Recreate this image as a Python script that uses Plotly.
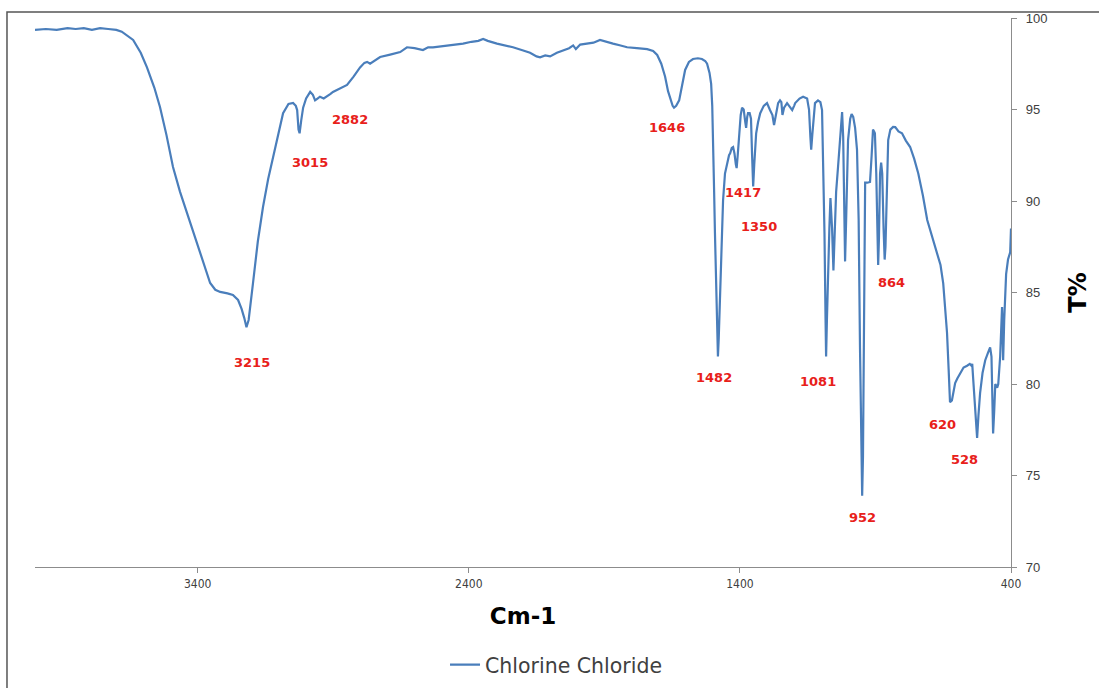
import plotly.graph_objects as go

# ---- data ----
wavenumber = [
    4000, 3960, 3920, 3880, 3850, 3820, 3790, 3760, 3730, 3700, 3680, 3660, 3638, 3610, 3587, 3560,
    3539, 3515, 3491, 3465, 3439, 3415, 3391, 3370, 3354, 3335, 3317, 3290, 3270, 3251, 3238, 3228,
    3220, 3212, 3205, 3196, 3178, 3159, 3140, 3122, 3100, 3085, 3065, 3048, 3038, 3033, 3028, 3024,
    3018, 3011, 3000, 2985, 2975, 2967, 2958, 2949, 2935, 2923, 2910, 2901, 2880, 2865, 2849, 2825,
    2801, 2785, 2775, 2764, 2745, 2727, 2690, 2653, 2628, 2600, 2569, 2550, 2532, 2505, 2480, 2450,
    2421, 2390, 2365, 2347, 2330, 2296, 2265, 2237, 2205, 2174, 2150, 2137, 2118, 2100, 2075, 2052,
    2030, 2015, 2005, 1989, 1960, 1940, 1916, 1895, 1868, 1840, 1816, 1780, 1742, 1720, 1705, 1690,
    1676, 1665, 1657, 1648, 1643, 1635, 1624, 1612, 1602, 1588, 1573, 1555, 1540, 1528, 1521, 1512,
    1506, 1502, 1499, 1495, 1492, 1487, 1484, 1481, 1478, 1474, 1469, 1465, 1462, 1455, 1447, 1440,
    1436, 1430, 1425, 1420, 1415, 1412, 1408, 1403, 1397, 1392, 1386, 1380, 1377, 1373, 1370, 1364,
    1359, 1355, 1351, 1347, 1340, 1333, 1325, 1312, 1300, 1289, 1280, 1274, 1266, 1259, 1252, 1247,
    1243, 1237, 1226, 1215, 1207, 1200, 1196, 1180, 1167, 1152, 1145, 1140, 1137, 1133, 1127, 1123,
    1112, 1103, 1097, 1092, 1088, 1084, 1082, 1079, 1075, 1070, 1066, 1060, 1055, 1050, 1045, 1038,
    1030, 1023, 1019, 1015, 1012, 1008, 1004, 1001, 993, 988, 982, 975, 968, 962, 957, 952,
    949, 946, 943, 940, 938, 930, 920, 914, 909, 905, 902, 897, 893, 890, 887, 883,
    879, 875, 870, 866, 863, 858, 853, 845, 835, 827, 815, 802, 788, 772, 757, 742,
    725, 709, 690, 672, 660, 650, 643, 636, 630, 625, 618, 612, 606, 598, 588, 575,
    562, 552, 546, 543, 540, 536, 532, 528, 525, 520, 514, 505, 495, 485, 477, 472,
    470, 468, 466, 462, 458, 451, 447, 440, 433, 431, 429, 425, 418, 411, 407, 403,
    400,
]
transmittance = [
    99.35, 99.40, 99.35, 99.45, 99.40, 99.45, 99.35, 99.45, 99.40, 99.35, 99.25, 99.05, 98.80, 98.10, 97.30, 96.20,
    95.14, 93.60, 91.86, 90.50, 89.34, 88.20, 87.16, 86.20, 85.52, 85.15, 85.03, 84.95, 84.86, 84.59, 84.10, 83.60,
    83.10, 83.50, 84.30, 85.50, 87.80, 89.67, 91.20, 92.40, 93.80, 94.80, 95.30, 95.36, 95.20, 94.97, 93.90, 93.70,
    94.40, 95.10, 95.60, 95.96, 95.80, 95.50, 95.60, 95.70, 95.60, 95.70, 95.85, 95.96, 96.10, 96.20, 96.34, 96.80,
    97.30, 97.55, 97.60, 97.50, 97.70, 97.87, 98.00, 98.14, 98.40, 98.35, 98.25, 98.40, 98.40, 98.45, 98.50, 98.55,
    98.60, 98.70, 98.75, 98.85, 98.75, 98.60, 98.50, 98.40, 98.25, 98.10, 97.90, 97.85, 97.95, 97.90, 98.10, 98.25,
    98.35, 98.50, 98.30, 98.55, 98.60, 98.65, 98.80, 98.70, 98.60, 98.50, 98.40, 98.35, 98.30, 98.20, 97.98, 97.50,
    96.80, 96.00, 95.60, 95.20, 95.10, 95.20, 95.50, 96.40, 97.16, 97.60, 97.76, 97.80, 97.76, 97.65, 97.50, 97.00,
    96.40, 95.20, 93.70, 90.50, 88.25, 84.50, 82.30, 81.50, 82.50, 84.50, 86.40, 88.50, 90.05, 91.50, 92.10, 92.50,
    92.60, 92.90, 92.95, 92.60, 92.00, 91.80, 92.50, 93.70, 94.70, 95.10, 95.00, 94.30, 94.00, 94.60, 94.80, 94.80,
    94.50, 92.50, 90.80, 92.00, 93.70, 94.30, 94.80, 95.20, 95.35, 94.97, 94.70, 94.15, 94.80, 95.35, 95.50, 95.40,
    94.70, 95.10, 95.35, 95.10, 94.97, 95.20, 95.35, 95.60, 95.70, 95.60, 95.00, 93.50, 92.80, 93.60, 95.00, 95.35,
    95.50, 95.40, 94.97, 92.00, 88.25, 83.50, 81.50, 83.50, 86.40, 88.50, 90.16, 88.50, 86.20, 88.00, 90.50, 91.86,
    93.80, 94.86, 93.50, 89.00, 86.70, 89.00, 91.80, 93.33, 94.50, 94.75, 94.60, 94.00, 92.80, 89.00, 82.00, 75.50,
    73.90, 76.00, 83.00, 89.00, 91.00, 91.00, 91.04, 92.50, 93.90, 93.80, 93.70, 91.50, 88.00, 86.50, 88.00, 91.50,
    92.10, 91.50, 88.50, 86.80, 87.50, 90.50, 93.33, 93.90, 94.05, 94.04, 93.80, 93.70, 93.30, 92.95, 92.30, 91.50,
    90.30, 88.96, 88.00, 87.16, 86.50, 85.50, 84.30, 82.80, 80.80, 79.00, 79.10, 79.70, 80.05, 80.30, 80.60, 80.90,
    81.00, 81.10, 81.00, 81.10, 80.40, 79.50, 78.30, 77.20, 77.05, 78.30, 79.50, 80.60, 81.30, 81.70, 82.00, 81.50,
    80.00, 78.00, 77.30, 78.50, 80.00, 79.80, 80.00, 81.50, 84.20, 83.20, 81.30, 83.50, 86.00, 86.80, 87.00, 87.20,
    88.50,
]
series_name = "Chlorine Chloride"

# peak labels (text) and the point where each label sits
peak_labels = ["3215", "3015", "2882", "1646", "1417", "1350", "1482", "1081", "952", "864", "620", "528"]
label_wn = [3199, 2986, 2838, 1669, 1388, 1329, 1495, 1112, 946, 842, 654, 573]
label_t = [81.2, 92.13, 94.43, 93.99, 90.49, 88.63, 80.38, 80.16, 72.73, 85.57, 77.76, 75.85]

x_ticks = [3400, 2400, 1400, 400]
x_title = "Cm-1"
y_title = "T%"

# ---- figure ----
fig = go.Figure()
fig.add_trace(go.Scatter(
    x=wavenumber, y=transmittance, mode="lines", name=series_name,
    line=dict(color="#4A7EBB", width=2.2),
))

for txt, xv, yv in zip(peak_labels, label_wn, label_t):
    fig.add_annotation(x=xv, y=yv, text=f"<b>{txt}</b>", showarrow=False,
                       font=dict(family="DejaVu Sans", size=13, color="#E8201A"))

# outer frame of the chart
fig.add_shape(type="rect", xref="paper", yref="paper",
              x0=-0.0287, x1=1.2, y0=-0.3, y1=1.0109,
              line=dict(color="#555555", width=1.5), fillcolor="rgba(0,0,0,0)")

fig.update_xaxes(
    range=[4000, 400], tickvals=x_ticks, ticktext=[str(v) for v in x_ticks],
    showline=True, linecolor="#8C8C8C", linewidth=1.3,
    ticks="outside", ticklen=5, tickcolor="#8C8C8C",
    showgrid=False, zeroline=False,
    tickfont=dict(family="Liberation Sans Narrow, DejaVu Sans Condensed, sans-serif", size=12, color="#404040"),
    title=dict(text=f"<b>{x_title}</b>", standoff=18,
               font=dict(family="DejaVu Sans, sans-serif", size=23, color="#000000")),
)
fig.update_yaxes(
    range=[70, 100], dtick=5, side="right",
    showline=True, linecolor="#8C8C8C", linewidth=1.3,
    ticks="outside", ticklen=5, tickcolor="#8C8C8C", ticklabelstandoff=6,
    showgrid=False, zeroline=False,
    tickfont=dict(family="Liberation Sans, sans-serif", size=13, color="#404040"),
    title=dict(text=f"<b>{y_title}</b>", standoff=22,
               font=dict(family="DejaVu Sans, sans-serif", size=24, color="#000000")),
)

fig.update_layout(
    width=1099, height=688,
    margin=dict(l=35, r=88, t=18, b=121, autoexpand=False),
    paper_bgcolor="white", plot_bgcolor="white",
    showlegend=True,
    legend=dict(orientation="h", x=0.4201, xanchor="left", y=-0.178, yanchor="middle",
                font=dict(family="DejaVu Sans, sans-serif", size=20.5, color="#404040"),
                itemwidth=30),
)

fig.write_html("out.html")
